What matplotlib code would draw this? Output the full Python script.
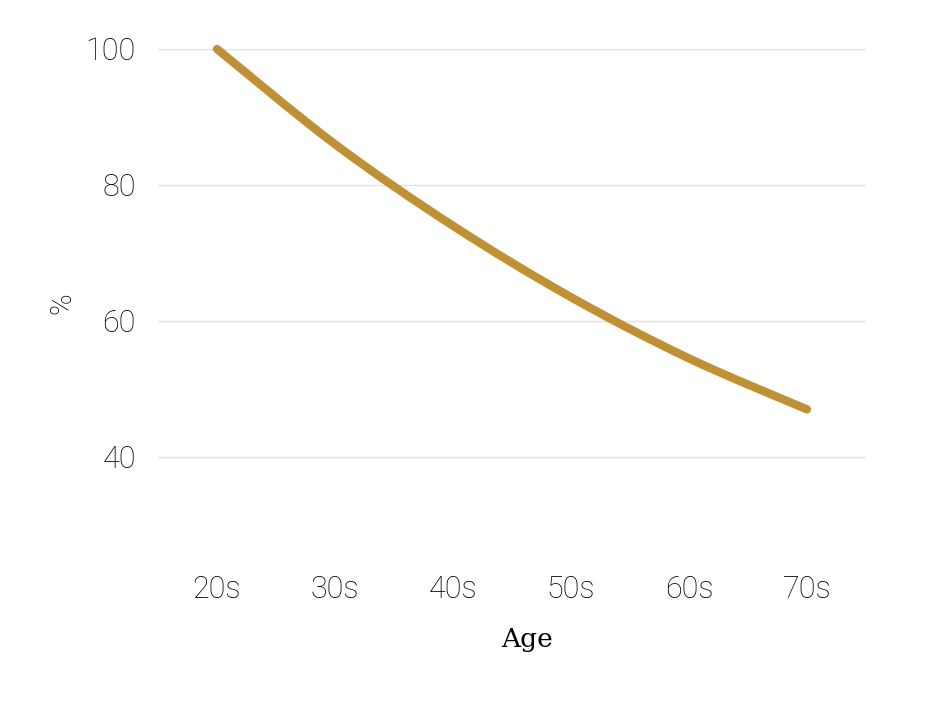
import matplotlib.pyplot as plt
from matplotlib.path import Path
from matplotlib.patches import PathPatch

ages = ["20s", "30s", "40s", "50s", "60s", "70s"]
pct = [100, 86, 74, 63.5, 54.5, 47]
yticks = [40, 60, 80, 100]

gold = "#bf9034"

fig = plt.figure(figsize=(9.27, 7.01), dpi=100)
ax = fig.add_axes([158/927, 1 - 525/701, (866-158)/927, (525-49)/701])

x = list(range(len(ages)))

# smooth curve through the points (catmull-rom -> bezier)
verts = [(x[0], pct[0])]
codes = [Path.MOVETO]
n = len(x)
for i in range(n - 1):
    p0 = (x[max(i-1, 0)], pct[max(i-1, 0)])
    p1 = (x[i], pct[i])
    p2 = (x[i+1], pct[i+1])
    p3 = (x[min(i+2, n-1)], pct[min(i+2, n-1)])
    c1 = (p1[0] + (p2[0]-p0[0])/6, p1[1] + (p2[1]-p0[1])/6)
    c2 = (p2[0] - (p3[0]-p1[0])/6, p2[1] - (p3[1]-p1[1])/6)
    verts += [c1, c2, p2]
    codes += [Path.CURVE4]*3
patch = PathPatch(Path(verts, codes), facecolor="none", edgecolor=gold, lw=6,
                  capstyle="round", joinstyle="round", clip_on=False)
ax.add_patch(patch)

ax.set_xlim(-0.5, 5.5)
ax.set_ylim(30, 100)
ax.set_yticks(yticks)
ax.set_xticks(x)
ax.set_xticklabels(ages)
ax.grid(axis="y", color="#e2e2e2", lw=1)
ax.set_axisbelow(True)
for s in ax.spines.values():
    s.set_visible(False)
ax.tick_params(length=0)
ax.tick_params(axis="y", pad=16)
ax.tick_params(axis="x", pad=36)
for lab in ax.get_xticklabels() + ax.get_yticklabels():
    lab.set_fontfamily("Roboto")
    lab.set_fontweight("light")
    lab.set_fontsize(22)
    lab.set_color("black")

fig.text(62/927, 1 - 303/701, "%", rotation=90, ha="center", va="center",
         fontsize=21, family="Roboto", fontweight="light", color="black")
fig.text(527/927, 1 - 640/701, "Age", ha="center", va="center",
         fontsize=19, family="DejaVu Serif", color="black")

fig.savefig("out.png", dpi=100)
